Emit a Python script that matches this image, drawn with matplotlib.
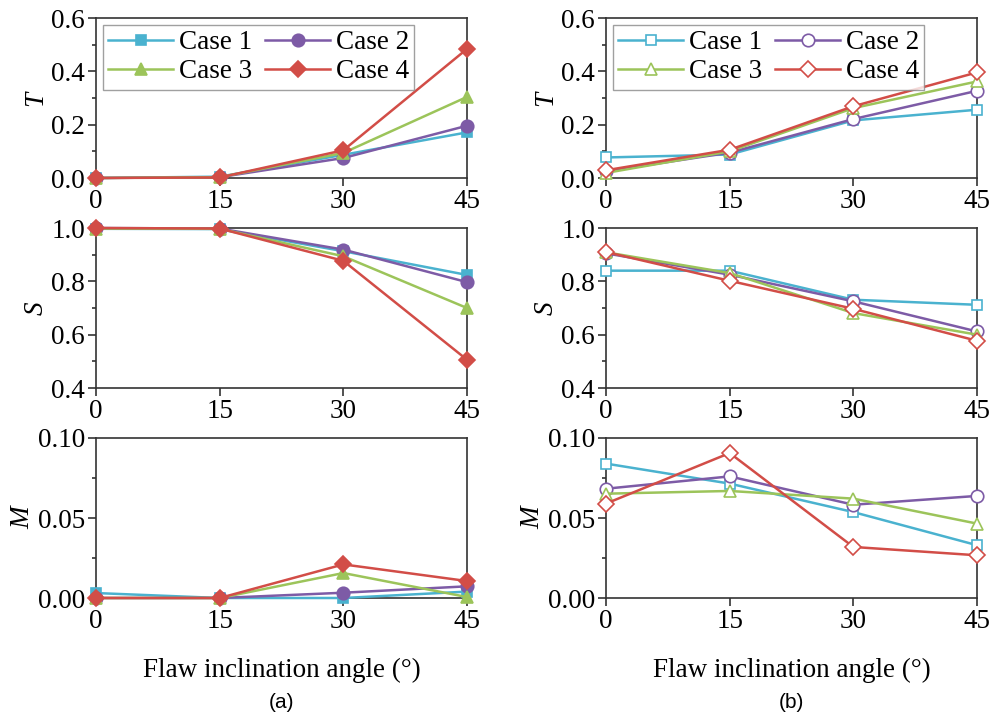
import numpy as np
import matplotlib
matplotlib.use("Agg")
import matplotlib.pyplot as plt
from matplotlib.ticker import MultipleLocator

plt.rcParams['font.family'] = ['Liberation Serif', 'DejaVu Serif']
plt.rcParams['mathtext.fontset'] = 'stix'

# Data
angles = [0, 15, 30, 45]
cases = ["Case 1", "Case 2", "Case 3", "Case 4"]

# (a)
T_a = [[0.0, 0.005, 0.087, 0.171],
       [0.0, 0.003, 0.075, 0.196],
       [0.0, 0.003, 0.094, 0.304],
       [0.0, 0.002, 0.104, 0.484]]
S_a = [[0.997, 0.996, 0.913, 0.824],
       [1.0, 0.998, 0.919, 0.797],
       [0.998, 0.997, 0.894, 0.700],
       [1.0, 0.998, 0.877, 0.506]]
M_a = [[0.0031, 0.0, 0.0, 0.0040],
       [0.0, 0.0, 0.0033, 0.0073],
       [0.0, 0.0, 0.0156, 0.0006],
       [0.0, 0.0, 0.0210, 0.0106]]

# (b)
T_b = [[0.077, 0.088, 0.216, 0.256],
       [0.025, 0.095, 0.221, 0.327],
       [0.019, 0.100, 0.262, 0.362],
       [0.029, 0.106, 0.269, 0.396]]
S_b = [[0.840, 0.840, 0.731, 0.712],
       [0.905, 0.825, 0.725, 0.612],
       [0.909, 0.831, 0.681, 0.600],
       [0.910, 0.802, 0.697, 0.577]]
M_b = [[0.0840, 0.0715, 0.0537, 0.0330],
       [0.0683, 0.0760, 0.0583, 0.0638],
       [0.0652, 0.0669, 0.0621, 0.0465],
       [0.0590, 0.0906, 0.0319, 0.0267]]

colors = ["#4AB2CF", "#7D5BA6", "#9CC45A", "#D24D47"]
markers_a = ["s", "o", "^", "D"]
msizes = [7, 9, 9, 8]

FS = 19.5

fig = plt.figure(figsize=(9.94, 7.16), dpi=100)

lefts = [96 / 994, 606 / 994]
width = 371 / 994
height = 160 / 716
bottoms = [1 - 178 / 716, 1 - 388 / 716, 1 - 598 / 716]

rows = [
    ("T", (0, 0.6), 0.2, 0.1, "{:.1f}"),
    ("S", (0.4, 1.0), 0.2, 0.1, "{:.1f}"),
    ("M", (0, 0.10), 0.05, 0.025, "{:.2f}"),
]
data = [[T_a, S_a, M_a], [T_b, S_b, M_b]]

for col in range(2):
    hollow = col == 1
    for r, (lab, ylim, maj, mnr, fmt) in enumerate(rows):
        ax = fig.add_axes([lefts[col], bottoms[r], width, height])
        vals = data[col][r]
        lines = []
        for i in range(4):
            fc = "white" if hollow else colors[i]
            ln, = ax.plot(angles, vals[i], color=colors[i], lw=1.8, marker=markers_a[i],
                          ms=msizes[i], mfc=fc, mec=colors[i], mew=1.2,
                          clip_on=False, zorder=3, label=cases[i])
            lines.append(ln)
        ax.set_xlim(0, 45)
        ax.set_ylim(*ylim)
        ax.set_xticks(angles)
        ax.yaxis.set_major_locator(MultipleLocator(maj))
        ax.yaxis.set_minor_locator(MultipleLocator(mnr))
        ax.set_yticklabels([fmt.format(v) for v in ax.get_yticks()])
        ax.tick_params(axis="both", which="major", direction="out", length=6,
                       width=1.2, labelsize=FS, color="#333333", pad=2)
        ax.tick_params(axis="y", which="minor", direction="out", length=3,
                       width=1.2, color="#333333")
        for sp in ax.spines.values():
            sp.set_color("#333333")
            sp.set_linewidth(1.2)
        ax.set_ylabel(lab, fontsize=FS, style="italic", labelpad=2)
        if r == 0:
            order = [0, 2, 1, 3]
            ax.legend([lines[k] for k in order], [cases[k] for k in order],
                      loc="upper left", ncol=2, fontsize=FS, frameon=True,
                      fancybox=False, edgecolor="#888888", handlelength=2.4,
                      columnspacing=0.5, handletextpad=0.2, borderpad=0.2,
                      labelspacing=0.15, borderaxespad=0.25)
        if r == 2:
            ax.set_xlabel("Flaw inclination angle (°)", fontsize=FS, labelpad=17)

fig.text((96 + 467) / 2 / 994, 1 - 702 / 716, "(a)", ha="center", va="center",
         fontsize=15, family="Liberation Sans")
fig.text((606 + 977) / 2 / 994, 1 - 702 / 716, "(b)", ha="center", va="center",
         fontsize=15, family="Liberation Sans")

fig.savefig("out.png", dpi=100)
